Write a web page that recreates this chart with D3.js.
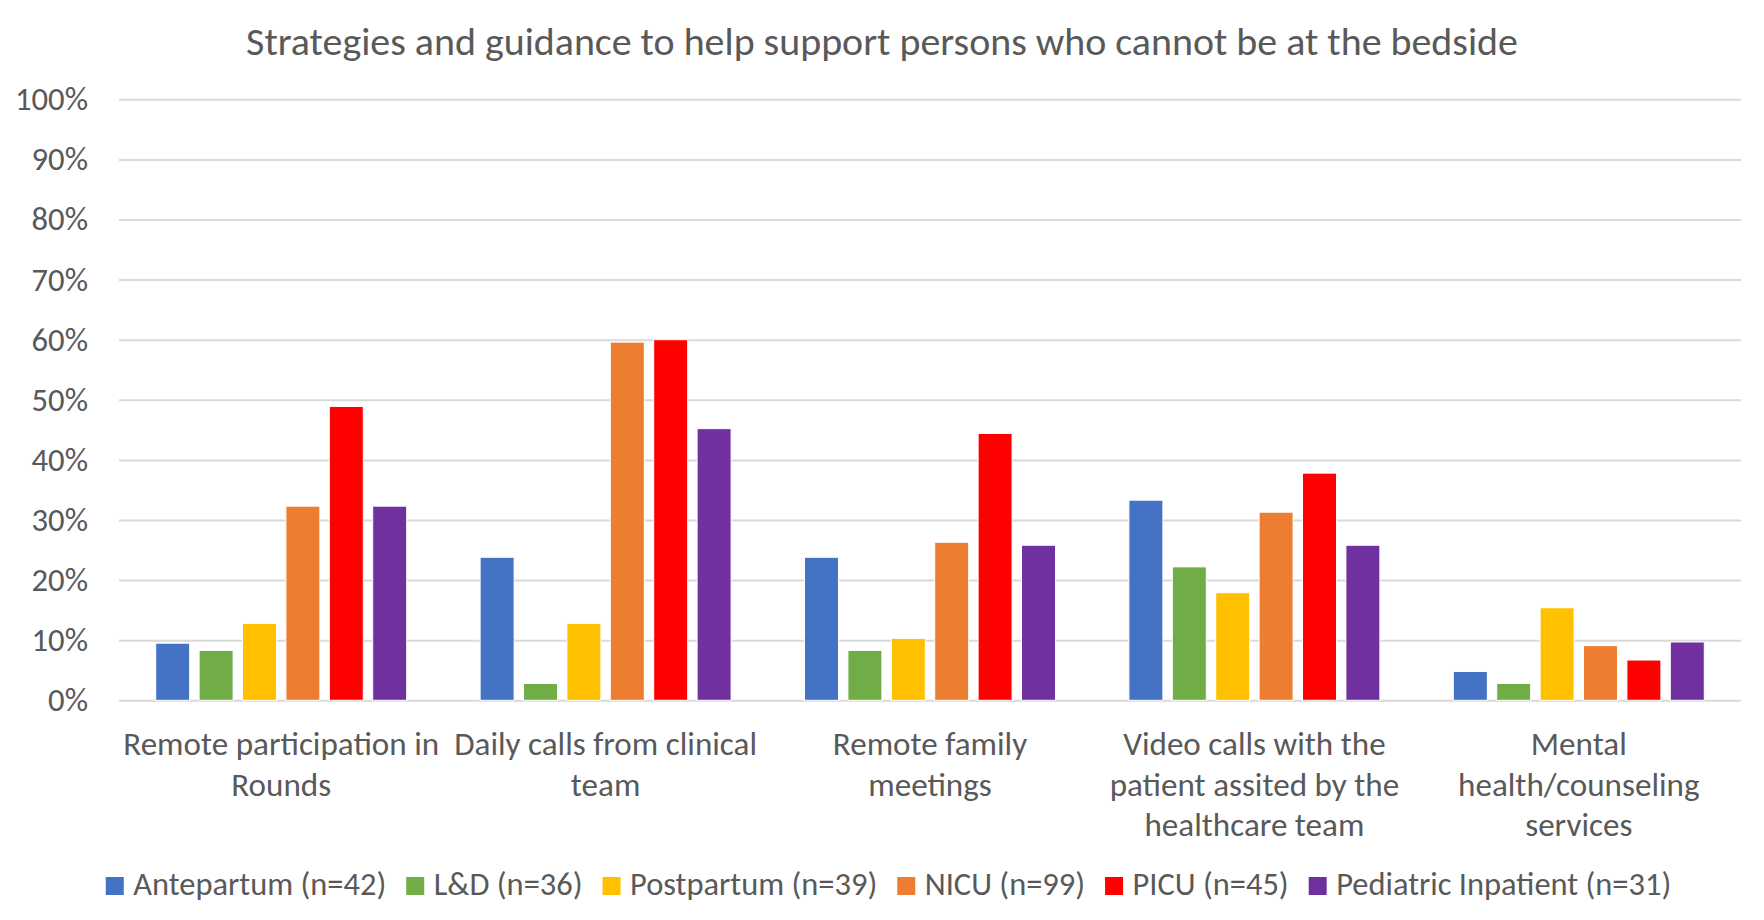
<!DOCTYPE html>
<html>
<head>
<meta charset="utf-8">
<script src="https://cdn.jsdelivr.net/npm/d3@7"></script>
<style>
  html, body { margin: 0; padding: 0; background: #fff; }
  svg { display: block; }
</style>
</head>
<body>
<svg id="chart" width="1764" height="920"></svg>
<script>
// ---- data ----
const title = "Strategies and guidance to help support persons who cannot be at the bedside";
const categories = [
  "Remote participation in Rounds",
  "Daily calls from clinical team",
  "Remote family meetings",
  "Video calls with the patient assited by the healthcare team",
  "Mental health/counseling services"
];
const categoryLines = [
  ["Remote participation in", "Rounds"],
  ["Daily calls from clinical", "team"],
  ["Remote family", "meetings"],
  ["Video calls with the", "patient assited by the", "healthcare team"],
  ["Mental", "health/counseling", "services"]
];
const seriesNames = [
  "Antepartum (n=42)",
  "L&D (n=36)",
  "Postpartum (n=39)",
  "NICU (n=99)",
  "PICU (n=45)",
  "Pediatric Inpatient (n=31)"
];
const antepartum = [9.5, 23.8, 23.8, 33.3, 4.8];
const laborDelivery = [8.3, 2.8, 8.3, 22.2, 2.8];
const postpartum = [12.8, 12.8, 10.3, 17.9, 15.4];
const nicu = [32.3, 59.6, 26.3, 31.3, 9.1];
const picu = [48.9, 60.0, 44.4, 37.8, 6.7];
const pediatric = [32.3, 45.2, 25.8, 25.8, 9.7];
const seriesValues = [antepartum, laborDelivery, postpartum, nicu, picu, pediatric];
const yTicks = [0, 10, 20, 30, 40, 50, 60, 70, 80, 90, 100];

// ---- styles ----
const colors = ["#4472C4", "#70AD47", "#FFC000", "#ED7D31", "#FF0000", "#7030A0"];
const textColor = "#595959";
const gridColor = "#D9D9D9";
const fontFamily = "Carlito, Calibri, Lato, 'Open Sans', sans-serif";

const svg = d3.select("#chart");

function fitSize(text, targetWidth) {
  const t = svg.append("text").attr("font-family", fontFamily).attr("font-size", 100).text(text);
  const w = t.node().getComputedTextLength();
  t.remove();
  return 100 * targetWidth / w;
}

const plot = { left: 119, right: 1741, top: 99.3, bottom: 700.3 };

const x0 = d3.scaleBand().domain(d3.range(categories.length)).range([plot.left, plot.right]).padding(0);
const x1 = d3.scaleBand().domain(d3.range(seriesNames.length)).range([0, x0.bandwidth()])
  .paddingInner(0.217).paddingOuter(0.846);
const y = d3.scaleLinear().domain([0, 100]).range([plot.bottom, plot.top]);

// title
const titleSize = fitSize(title, 1272);
svg.append("text")
  .attr("x", 882).attr("y", 55)
  .attr("text-anchor", "middle")
  .attr("font-family", fontFamily).attr("font-size", titleSize)
  .attr("fill", textColor)
  .text(title);

// grid + y axis
const tickSize = fitSize("100%", 73);
const yAxis = d3.axisLeft(y).tickValues(yTicks).tickFormat(d => d + "%")
  .tickSize(-(plot.right - plot.left)).tickPadding(31);
const gY = svg.append("g").attr("transform", `translate(${plot.left},0)`).call(yAxis);
gY.select(".domain").remove();
gY.selectAll(".tick line").attr("stroke", gridColor).attr("stroke-width", 2);
gY.selectAll(".tick text")
  .attr("fill", textColor)
  .attr("font-family", fontFamily)
  .attr("font-size", tickSize);

// bars
const groups = svg.append("g").selectAll("g")
  .data(seriesValues)
  .join("g")
  .attr("fill", (d, i) => colors[i]);
groups.each(function(vals, si) {
  d3.select(this).selectAll("rect")
    .data(vals)
    .join("rect")
    .attr("x", (v, ci) => x0(ci) + x1(si))
    .attr("width", x1.bandwidth())
    .attr("y", v => y(v))
    .attr("height", v => y(0) - y(v))
    .attr("stroke", "#fff")
    .attr("stroke-width", 1);
});

// x axis labels
const catSize = fitSize("Remote participation in", 316);
const xAxis = d3.axisBottom(x0).tickSize(0).tickFormat(() => "");
const gX = svg.append("g").attr("transform", `translate(0,${plot.bottom})`).call(xAxis);
gX.select(".domain").remove();
gX.selectAll(".tick").each(function(ci) {
  const t = d3.select(this).append("text")
    .attr("text-anchor", "middle")
    .attr("fill", textColor)
    .attr("font-family", fontFamily)
    .attr("font-size", catSize);
  categoryLines[ci].forEach((line, li) => {
    t.append("tspan").attr("x", 0).attr("y", 55 + li * 40.5).text(line);
  });
});

// legend
const legSize = fitSize("Antepartum (n=42)", 253);
const legend = svg.append("g");
let cx = 0;
seriesNames.forEach((name, i) => {
  const g = legend.append("g").attr("transform", `translate(${cx},0)`);
  g.append("rect").attr("x", 0).attr("y", 877).attr("width", 18).attr("height", 18).attr("fill", colors[i]);
  const t = g.append("text").attr("x", 27.5).attr("y", 895)
    .attr("fill", textColor).attr("font-family", fontFamily).attr("font-size", legSize)
    .text(name);
  cx += 27.5 + t.node().getComputedTextLength() + 20;
});
const legendWidth = cx - 20;
legend.attr("transform", `translate(${888.5 - legendWidth / 2},0)`);
</script>
</body>
</html>
